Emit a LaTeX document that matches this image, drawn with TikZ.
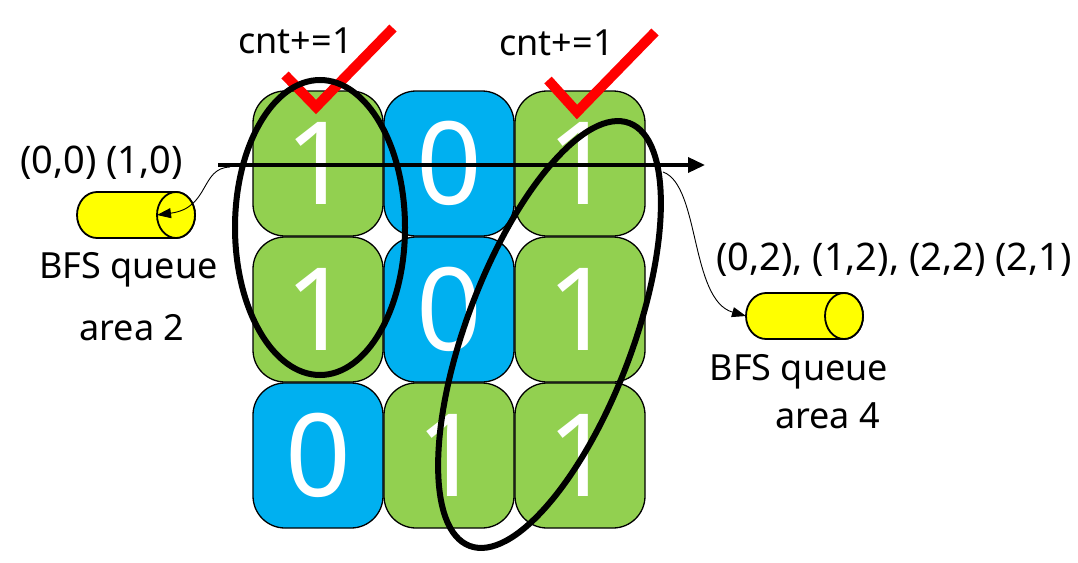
\documentclass[tikz,border=0pt]{standalone}
\usepackage{fontspec}
\setmainfont{Noto Sans}
\usetikzlibrary{arrows.meta}
\definecolor{cellgreen}{HTML}{92D050}
\definecolor{cellblue}{HTML}{00B0F0}
\definecolor{qyellow}{HTML}{FFFF00}
\definecolor{checkred}{HTML}{FF0000}
\begin{document}
\begin{tikzpicture}[x=1pt,y=-1pt,
 cell/.style={draw=black, line width=1.3pt, rounded corners=32pt, minimum width=130pt, minimum height=145pt, inner sep=0pt, text=white, font=\fontsize{115}{120}\selectfont},
 one/.style={cell, fill=cellgreen},
 zero/.style={cell, fill=cellblue},
 lbl/.style={anchor=base, inner sep=0pt, font=\fontsize{36}{40}\selectfont},
 coordlbl/.style={anchor=base, inner sep=0pt, font=\fontsize{38}{42}\selectfont},
 scan/.style={line width=3.5pt, -{Triangle[length=17pt,width=15pt]}},
 link/.style={line width=0.9pt, -{Triangle[length=14pt,width=10pt]}},
 region/.style={draw=black, line width=6pt},
 tick/.style={draw=checkred, line width=10pt, line join=miter, line cap=butt},
 queue/.style={draw=black, line width=1.8pt, fill=qyellow}]
\useasboundingbox (0,0) rectangle (1078,562);

% grid cells
\node[one]  (c00) at (318,163.5) {1};
\node[zero] (c01) at (449,163.5) {0};
\node[one]  (c02) at (580,163.5) {1};
\node[one]  (c10) at (318,309.5) {1};
\node[zero] (c11) at (449,309.5) {0};
\node[one]  (c12) at (580,309.5) {1};
\node[zero] (c20) at (318,455.5) {0};
\node[one]  (c21) at (449,455.5) {1};
\node[one]  (c22) at (580,455.5) {1};

% scan arrow
\coordinate (scanA) at (218,165);
\coordinate (scanB) at (705,165);
\draw[scan] (scanA) -- (scanB);

% check marks
\draw[tick] (285,75) -- (316,107) -- (393,28);
\draw[tick] (548,80) -- (577,112) -- (655,32);

% area regions
\draw[region] (320,227.5) ellipse[x radius=85pt, y radius=147.5pt];
\draw[region, rotate around={69.3:(549.5,334.5)}] (549.5,334.5) ellipse[x radius=226pt, y radius=83pt];

% queues
\path[queue] (97,192) -- (176,192) arc[start angle=90,end angle=-90,x radius=19pt,y radius=23pt] -- (97,238) arc[start angle=270,end angle=90,x radius=20pt,y radius=23pt] -- cycle;
\draw[queue] (176,215) ellipse[x radius=19pt, y radius=23pt];
\coordinate (qL) at (157,215);

\path[queue] (766,293) -- (844,293) arc[start angle=90,end angle=-90,x radius=19pt,y radius=23pt] -- (766,339) arc[start angle=270,end angle=90,x radius=20pt,y radius=23pt] -- cycle;
\draw[queue] (844,316) ellipse[x radius=19pt, y radius=23pt];
\coordinate (qR) at (746,316);

% links
\coordinate (sL) at (230,167);
\coordinate (sR) at (663,172);
\draw[link] (sL) .. controls (200,168) and (210,208) .. (qL);
\draw[link] (sR) .. controls (700,185) and (690,300) .. (qR);

% labels
\node[lbl] (cnt1) at (295.5,53) {cnt+=1};
\node[lbl] (cnt2) at (556.5,55) {cnt+=1};
\node[coordlbl] (posL) at (101.5,173) {(0,0) (1,0)};
\node[lbl] (bfsL) at (128.5,278) {BFS queue};
\node[lbl] (areaL) at (132,340) {area 2};
\node[coordlbl] (posR) at (894,270) {(0,2), (1,2), (2,2) (2,1)};
\node[lbl] (bfsR) at (799,380) {BFS queue};
\node[lbl] (areaR) at (827.5,428) {area 4};
\end{tikzpicture}
\end{document}
